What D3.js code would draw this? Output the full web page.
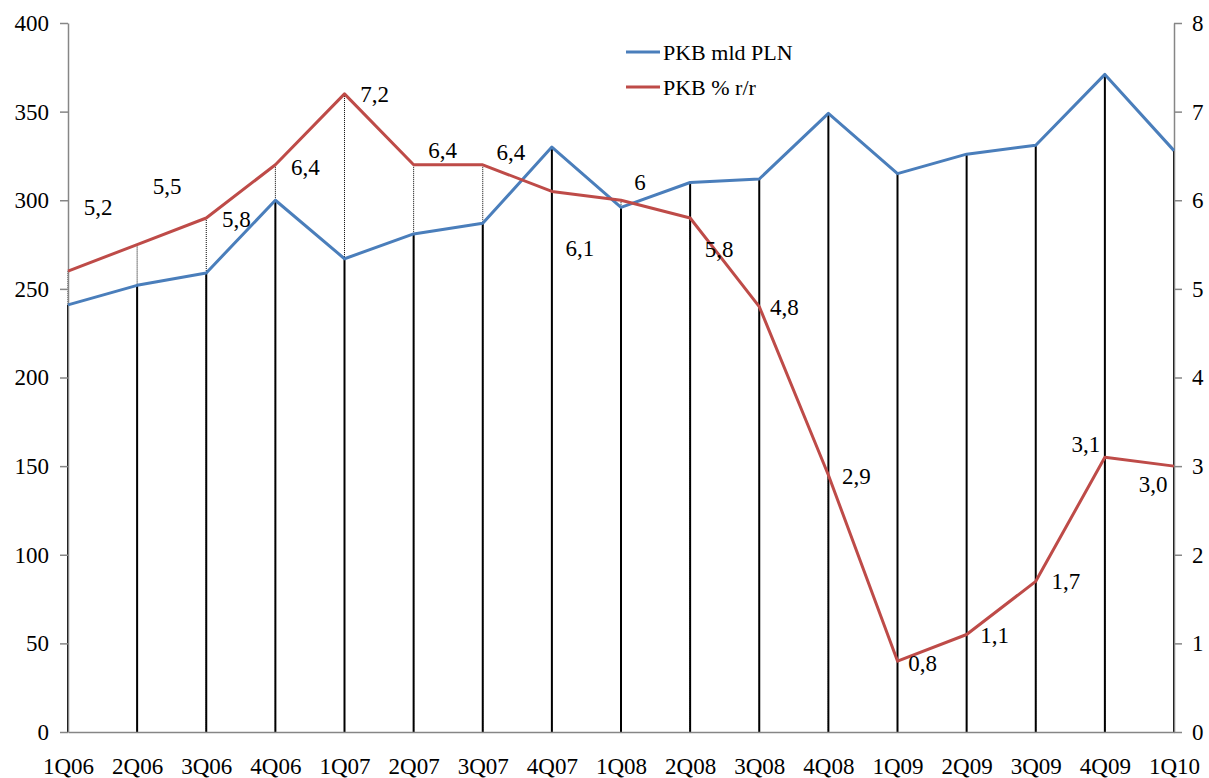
<!DOCTYPE html>
<html>
<head>
<meta charset="utf-8">
<script src="https://cdn.jsdelivr.net/npm/d3@7"></script>
<style>
  body { margin: 0; background: #fff; }
</style>
</head>
<body>
<svg id="chart"></svg>
<script>
'use strict';

const quarters = ['1Q06', '2Q06', '3Q06', '4Q06', '1Q07', '2Q07', '3Q07', '4Q07', '1Q08',
    '2Q08', '3Q08', '4Q08', '1Q09', '2Q09', '3Q09', '4Q09', '1Q10'];
const gdpBn = [241, 252, 259, 300, 267, 281, 287, 330, 296, 310, 312, 349, 315, 326, 331, 371, 328];
const gdpYoY = [5.2, 5.5, 5.8, 6.4, 7.2, 6.4, 6.4, 6.1, 6.0, 5.8, 4.8, 2.9, 0.8, 1.1, 1.7, 3.1, 3.0];
const yoyLabels = ['5,2', '5,5', '5,8', '6,4', '7,2', '6,4', '6,4', '6,1', '6', '5,8', '4,8',
    '2,9', '0,8', '1,1', '1,7', '3,1', '3,0'];
const leftTicks = [0, 50, 100, 150, 200, 250, 300, 350, 400];
const rightTicks = [0, 1, 2, 3, 4, 5, 6, 7, 8];
const seriesNames = ['PKB mld PLN', 'PKB % r/r'];

(function () {
    // label placement relative to the red points (as in the original)
    const labelOffsets = [[30, -64], [30, -59], [30, 1], [30, 2], [30, 0], [29, -15], [28, -13],
        [28, 57], [19, -18], [29, 31], [25, 0], [28, 1], [25, 2], [28, 0], [30, 0], [-19, -13], [-21, 18]];

    const width = 1209;
    const height = 778;
    const plotLeft = 68, plotRight = 1174, plotTop = 23, plotBottom = 732;
    const font = 'Liberation Serif';
    const fontSize = 23;
    const blue = '#4a7ebb';
    const red = '#be4b48';
    const axisGrey = '#868686';

    const svg = d3.select('#chart')
        .attr('width', width)
        .attr('height', height)
        .attr('font-family', font);

    const x = d3.scalePoint().domain(quarters).range([plotLeft, plotRight]);
    const yL = d3.scaleLinear().domain([0, 400]).range([plotBottom, plotTop]);
    const yR = d3.scaleLinear().domain([0, 8]).range([plotBottom, plotTop]);

    // drop lines: dotted for the growth series, solid for the level series
    svg.append('g').selectAll('line')
        .data(gdpYoY)
        .enter().append('line')
        .attr('x1', (d, i) => x(quarters[i]))
        .attr('x2', (d, i) => x(quarters[i]))
        .attr('y1', d => yR(d))
        .attr('y2', plotBottom)
        .attr('stroke', '#000')
        .attr('stroke-width', 1)
        .attr('stroke-dasharray', '1,1');

    svg.append('g').selectAll('line')
        .data(gdpBn)
        .enter().append('line')
        .attr('x1', (d, i) => x(quarters[i]))
        .attr('x2', (d, i) => x(quarters[i]))
        .attr('y1', d => yL(d))
        .attr('y2', plotBottom)
        .attr('stroke', '#000')
        .attr('stroke-width', 2);

    function styleAxis(g) {
        g.attr('font-family', font).attr('font-size', fontSize);
        g.selectAll('path, line').attr('stroke', axisGrey).attr('stroke-width', 1.5);
        g.selectAll('text').attr('fill', '#000');
    }

    svg.append('g')
        .attr('transform', 'translate(' + plotLeft + ',0)')
        .call(d3.axisLeft(yL).tickValues(leftTicks).tickSize(8).tickSizeOuter(0).tickPadding(11))
        .call(styleAxis);

    svg.append('g')
        .attr('transform', 'translate(' + plotRight + ',0)')
        .call(d3.axisRight(yR).tickValues(rightTicks).tickSize(8).tickSizeOuter(0).tickPadding(10))
        .call(styleAxis);

    const xAxis = svg.append('g')
        .attr('transform', 'translate(0,' + plotBottom + ')')
        .call(d3.axisBottom(x).tickSize(0).tickSizeOuter(0))
        .call(styleAxis);
    xAxis.selectAll('text').attr('y', 42).attr('dy', null);

    const line = d3.line();

    svg.append('path')
        .attr('fill', 'none')
        .attr('stroke', blue)
        .attr('stroke-width', 3)
        .attr('stroke-linejoin', 'round')
        .attr('d', line(gdpBn.map((d, i) => [x(quarters[i]), yL(d)])));

    svg.append('path')
        .attr('fill', 'none')
        .attr('stroke', red)
        .attr('stroke-width', 3)
        .attr('stroke-linejoin', 'round')
        .attr('d', line(gdpYoY.map((d, i) => [x(quarters[i]), yR(d)])));

    svg.append('g')
        .attr('font-size', fontSize)
        .selectAll('text')
        .data(gdpYoY)
        .enter().append('text')
        .attr('x', (d, i) => x(quarters[i]) + labelOffsets[i][0])
        .attr('y', (d, i) => yR(d) + labelOffsets[i][1])
        .attr('dy', '0.35em')
        .attr('text-anchor', 'middle')
        .text((d, i) => yoyLabels[i]);

    // legend
    const legend = svg.append('g')
        .attr('font-size', 22)
        .selectAll('g')
        .data(seriesNames)
        .enter().append('g')
        .attr('transform', (d, i) => 'translate(626,' + (52 + i * 35) + ')');

    legend.append('line')
        .attr('x1', 0)
        .attr('x2', 34)
        .attr('stroke', (d, i) => i === 0 ? blue : red)
        .attr('stroke-width', 3);

    legend.append('text')
        .attr('x', 37)
        .attr('dy', '0.35em')
        .text(d => d);
})();
</script>
</body>
</html>
